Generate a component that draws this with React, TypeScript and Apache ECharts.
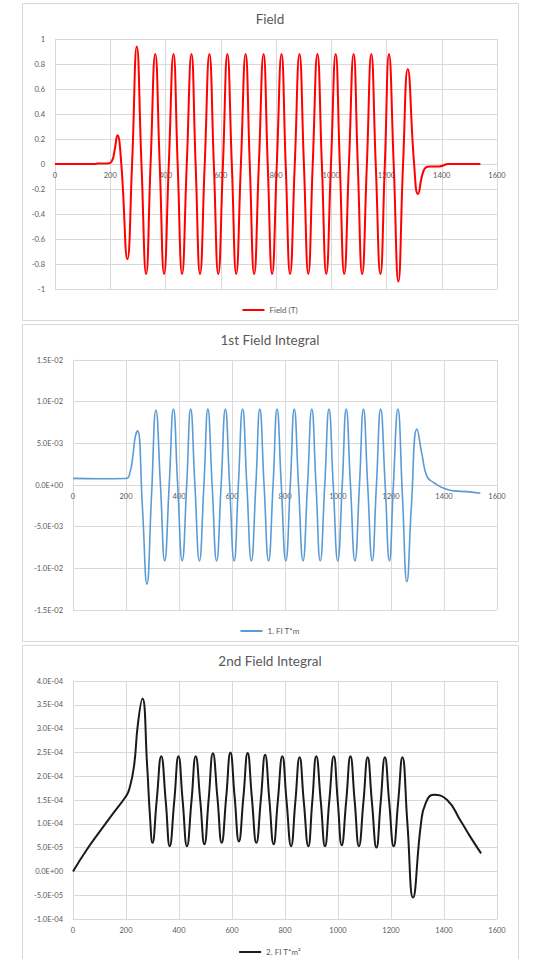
import React, { useEffect, useRef } from "react";
import * as echarts from "echarts";

// ---- Field (T) ----
const fieldX = [0, 148, 155, 190, 205, 215, 226, 240, 262, 279, 296, 313, 330, 346, 363, 379, 395, 412, 429, 444, 460, 477, 494, 509, 525, 542, 559, 575, 591, 608, 624, 640, 656, 673, 690, 705, 721, 738, 755, 770, 786, 803, 820, 835, 851, 868, 885, 901, 917, 933, 950, 966, 982, 999, 1016, 1031, 1047, 1064, 1081, 1096, 1112, 1129, 1145, 1161, 1178, 1194, 1209, 1226, 1243, 1260, 1277, 1300, 1314, 1335, 1355, 1390, 1425, 1540];
const fieldY = [0, 0, 0.005, 0.004, 0.02, 0.1, 0.23, 0, -0.76, 0, 0.94, 0, -0.88, 0, 0.88, 0, -0.88, 0, 0.88, 0, -0.88, 0, 0.88, 0, -0.88, 0, 0.88, 0, -0.88, 0, 0.88, 0, -0.88, 0, 0.88, 0, -0.88, 0, 0.88, 0, -0.88, 0, 0.88, 0, -0.88, 0, 0.88, 0, -0.88, 0, 0.88, 0, -0.88, 0, 0.88, 0, -0.88, 0, 0.88, 0, -0.88, 0, 0.88, 0, -0.88, 0, 0.88, 0, -0.94, 0, 0.76, 0, -0.24, -0.05, -0.02, -0.02, 0, 0];

// ---- 1st field integral (T*m) ----
const int1X = [0, 100, 200, 215, 226, 235, 244, 262, 279, 296, 313, 330, 346, 363, 379, 395, 412, 429, 444, 460, 477, 494, 509, 525, 542, 559, 575, 591, 608, 624, 640, 656, 673, 690, 705, 721, 738, 755, 770, 786, 803, 820, 835, 851, 868, 885, 901, 917, 933, 950, 966, 982, 999, 1016, 1031, 1047, 1064, 1081, 1096, 1112, 1129, 1145, 1161, 1178, 1194, 1209, 1226, 1243, 1260, 1277, 1298, 1318, 1336, 1361, 1399, 1437, 1487, 1537];
const int1Y = [0.0008, 0.00075, 0.00078, 0.0015, 0.0035, 0.0058, 0.0065, -0.0027, -0.0119, -0.0015, 0.009, 0, -0.0091, 0, 0.0091, 0, -0.0091, 0, 0.0091, 0, -0.0091, 0, 0.0091, 0, -0.0091, 0, 0.0091, 0, -0.0091, 0, 0.0091, 0, -0.0091, 0, 0.0091, 0, -0.0091, 0, 0.0091, 0, -0.0091, 0, 0.0091, 0, -0.0091, 0, 0.0091, 0, -0.0091, 0, 0.0091, 0, -0.0091, 0, 0.0091, 0, -0.0091, 0, 0.0091, 0, -0.0091, 0, 0.0091, 0, -0.0091, 0, 0.0091, -0.0012, -0.0116, -0.0025, 0.0067, 0.0035, 0.001, 0.0003, -0.0004, -0.0007, -0.0008, -0.001];

// ---- 2nd field integral (T*m²) ----
const int2X = [0, 50, 100, 150, 200, 212, 230, 245, 262, 280, 290, 300, 316, 333, 350, 365, 382, 398, 414, 430, 447, 463, 480, 496, 512, 528, 545, 561, 578, 594, 610, 626, 643, 659, 675, 692, 709, 725, 741, 757, 773, 790, 806, 823, 839, 855, 871, 888, 903, 918, 935, 951, 967, 984, 999, 1014, 1031, 1047, 1063, 1079, 1096, 1112, 1128, 1145, 1161, 1177, 1193, 1210, 1227, 1243, 1262, 1283, 1313, 1330, 1361, 1412, 1462, 1500, 1540];
const int2Y = [0, 4.4e-5, 8.3e-5, 1.21e-4, 1.58e-4, 1.72e-4, 2.2e-4, 3.1e-4, 3.63e-4, 2.2e-4, 1.2e-4, 6.0e-5, 1.5e-4, 2.42e-4, 1.47e-4, 5.3e-5, 1.47e-4, 2.42e-4, 1.47e-4, 5.3e-5, 1.47e-4, 2.42e-4, 1.5e-4, 5.7e-5, 1.52e-4, 2.48e-4, 1.55e-4, 6.0e-5, 1.55e-4, 2.5e-4, 1.56e-4, 6.3e-5, 1.56e-4, 2.49e-4, 1.55e-4, 6.0e-5, 1.52e-4, 2.45e-4, 1.5e-4, 5.7e-5, 1.49e-4, 2.42e-4, 1.47e-4, 5.3e-5, 1.46e-4, 2.4e-4, 1.46e-4, 5.3e-5, 1.47e-4, 2.42e-4, 1.47e-4, 5.3e-5, 1.47e-4, 2.42e-4, 1.48e-4, 5.5e-5, 1.48e-4, 2.42e-4, 1.47e-4, 5.3e-5, 1.46e-4, 2.4e-4, 1.45e-4, 5.0e-5, 1.45e-4, 2.4e-4, 1.47e-4, 5.3e-5, 1.46e-4, 2.4e-4, 1.0e-4, -5.5e-5, 1.0e-4, 1.42e-4, 1.61e-4, 1.5e-4, 1.07e-4, 7.2e-5, 3.8e-5];

const xTicks = { min: 0, max: 1600, interval: 200 };
const seriesNames = ["Field (T)", "1. FI T*m", "2. FI T*m²"];
const titles = ["Field", "1st Field Integral", "2nd Field Integral"];

const pairs = (xs: number[], ys: number[]) => xs.map((x, i) => [x, ys[i]]);

const sci = (v: number) => {
  if (Math.abs(v) < 1e-12) return "0.0E+00";
  const [m, e] = v.toExponential(1).split("e");
  const n = parseInt(e, 10);
  return m + "E" + (n < 0 ? "-" : "+") + String(Math.abs(n)).padStart(2, "0");
};

const FONT = "Lato, 'Open Sans', sans-serif";
const LABEL = "#595959";
const GRIDC = "#d9d9d9";

export default function App() {
  const ref = useRef<HTMLDivElement>(null);
  useEffect(() => {
    if (!ref.current) return;
    const chart = echarts.init(ref.current, undefined, { renderer: "svg" });
    const grids = [
      { left: 55, right: 43, top: 39, height: 250 },
      { left: 73, right: 43, top: 360, height: 250 },
      { left: 73, right: 43, top: 681, height: 238 },
    ];
    // first two panels: x axis sits on the y=0 line (middle of a symmetric y range)
    const xOffsets = [-125, -125, 0];
    const xAxis = grids.map((_, i) => ({
      type: "value",
      gridIndex: i,
      ...xTicks,
      offset: xOffsets[i],
      axisLine: { show: true, onZero: false, lineStyle: { color: GRIDC, width: 1 } },
      axisTick: { show: false },
      axisLabel: { color: LABEL, fontSize: 7.5, fontFamily: FONT, margin: 7, formatter: (v: number) => String(v) },
      splitLine: { show: true, lineStyle: { color: GRIDC, width: 1 } },
    }));
    const yCfg = [
      { min: -1, max: 1, interval: 0.2, formatter: undefined as any },
      { min: -0.015, max: 0.015, interval: 0.005, formatter: sci },
      { min: -0.0001, max: 0.0004, interval: 0.00005, formatter: sci },
    ];
    const yAxis = yCfg.map((c, i) => ({
      type: "value",
      gridIndex: i,
      min: c.min,
      max: c.max,
      interval: c.interval,
      axisLine: { show: true, onZero: false, lineStyle: { color: GRIDC, width: 1 } },
      axisTick: { show: false },
      axisLabel: { color: LABEL, fontSize: 7.5, fontFamily: FONT, margin: 10, formatter: c.formatter },
      splitLine: { show: true, lineStyle: { color: GRIDC, width: 1 } },
    }));
    const colors = ["#ff0000", "#5b9bd5", "#1a1a1a"];
    const widths = [2, 1.6, 2];
    const datas = [pairs(fieldX, fieldY), pairs(int1X, int1Y), pairs(int2X, int2Y)];
    const series = datas.map((d, i) => ({
      type: "line",
      name: seriesNames[i],
      xAxisIndex: i,
      yAxisIndex: i,
      data: d,
      smooth: 0.5,
      symbol: "none",
      lineStyle: { color: colors[i], width: widths[i] },
      itemStyle: { color: colors[i] },
      z: 3,
    }));
    const titleTops = [12, 333, 654];
    const legendTops = [306, 627, 948];
    const panels = [
      { y: 3, h: 317 },
      { y: 324, h: 317 },
      { y: 645, h: 320 },
    ];
    chart.setOption({
      animation: false,
      backgroundColor: "#ffffff",
      title: titles.map((t, i) => ({
        text: t,
        left: 270,
        textAlign: "center",
        top: titleTops[i],
        padding: 0,
        textStyle: { color: LABEL, fontSize: 13.5, fontWeight: "normal", fontFamily: FONT },
      })),
      legend: seriesNames.map((n, i) => ({
        data: [{ name: n, icon: "rect" }],
        left: "center",
        top: legendTops[i],
        padding: 0,
        itemWidth: 22,
        itemHeight: 2,
        itemGap: 2,
        textStyle: { color: LABEL, fontSize: 8, fontFamily: FONT },
      })),
      grid: grids,
      xAxis,
      yAxis,
      series,
      graphic: panels.map((p) => ({
        type: "rect",
        z: -10,
        shape: { x: 22.5, y: p.y + 0.5, width: 496, height: p.h },
        style: { fill: "#ffffff", stroke: GRIDC, lineWidth: 1 },
        silent: true,
      })),
    });
    return () => chart.dispose();
  }, []);
  return <div ref={ref} style={{ position: "absolute", left: 0, top: 0, width: 540, height: 959 }} />;
}
